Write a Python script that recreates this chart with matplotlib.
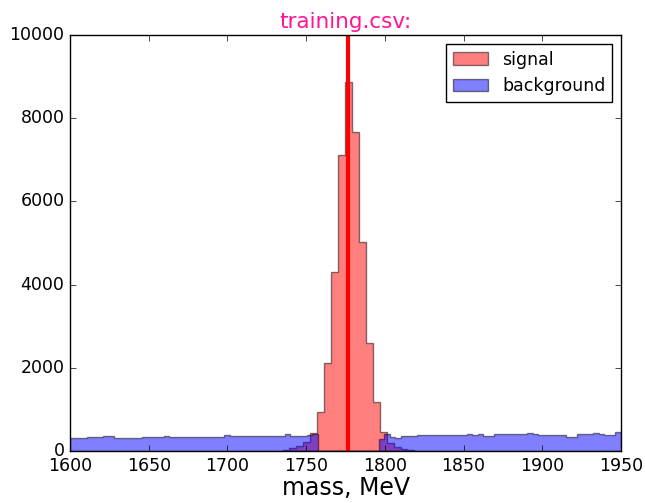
import matplotlib
matplotlib.use("Agg")
import matplotlib.pyplot as plt
import numpy as np

# background: 100 bins of 3.5 MeV over 1600-1950, empty in the signal window
BKG_RANGE = (1600.0, 1950.0)
BKG_COUNTS = [
    305, 310, 305, 330, 335, 330, 370, 365, 310, 305,
    310, 320, 320, 325, 345, 340, 345, 350, 345, 345,
    345, 340, 330, 330, 335, 330, 335, 345, 385, 360,
    355, 360, 360, 365, 360, 355, 360, 365, 360, 400,
    355, 350, 360, 385, 400, 0, 0, 0, 0, 0,
    0, 0, 0, 0, 0, 0, 280, 400, 330, 320,
    360, 360, 365, 385, 380, 385, 390, 380, 385, 390,
    385, 380, 400, 395, 400, 360, 365, 400, 400, 405,
    420, 415, 420, 425, 420, 385, 385, 380, 390, 385,
    335, 340, 420, 415, 420, 425, 420, 385, 385, 450,
]

# signal: 4.41 MeV bins starting at 1735.0
SIG_START = 1735.0
SIG_WIDTH = 4.41
SIG_COUNTS = [
    30, 65, 120, 225, 425, 945, 2108, 4310, 7115, 8878,
    7675, 5032, 2588, 1185, 464, 200, 100, 45, 20,
]

TAU_MASS = 1776.82
X_TICKS = [1600, 1650, 1700, 1750, 1800, 1850, 1900, 1950]
Y_TICKS = [0, 2000, 4000, 6000, 8000, 10000]


def plot_mass_hist(out_path: str = "out.png") -> None:
    """Signal vs background mass distributions from training.csv."""
    plt.style.use("classic")
    plt.rcParams["figure.facecolor"] = "white"
    plt.rcParams["savefig.facecolor"] = "white"

    bkg_edges = np.linspace(BKG_RANGE[0], BKG_RANGE[1], len(BKG_COUNTS) + 1)
    sig_edges = SIG_START + SIG_WIDTH * np.arange(len(SIG_COUNTS) + 1)

    fig = plt.figure(figsize=(6.45, 5.03), dpi=100)
    ax = fig.add_axes([70 / 645, 52 / 503, 551 / 645, 416 / 503])

    ax.hist(sig_edges[:-1], bins=sig_edges, weights=SIG_COUNTS,
            histtype="stepfilled", color="r", alpha=0.5, label="signal")
    ax.hist(bkg_edges[:-1], bins=bkg_edges, weights=BKG_COUNTS,
            histtype="stepfilled", color="b", alpha=0.5, label="background")
    ax.axvline(TAU_MASS, color="r", linewidth=3)

    ax.set_xlim(1600, 1950)
    ax.set_ylim(0, 10000)
    ax.set_xticks(X_TICKS)
    ax.set_yticks(Y_TICKS)
    ax.tick_params(labelsize=12.5)
    ax.set_xlabel("mass, MeV", fontsize=17, labelpad=1)
    ax.set_title("training.csv:", color="deeppink", fontsize=15.5)
    ax.legend(loc="upper right", fontsize=12.5)

    fig.savefig(out_path, dpi=100)


if __name__ == "__main__":
    plot_mass_hist()
